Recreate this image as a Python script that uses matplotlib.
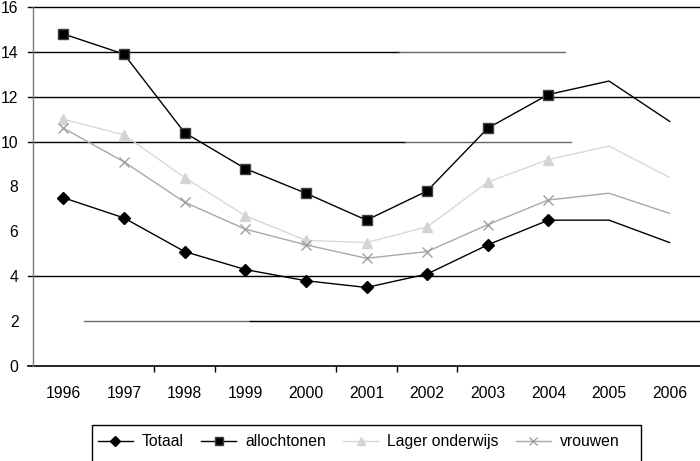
import matplotlib
matplotlib.use("Agg")
import matplotlib.pyplot as plt
from matplotlib.patches import Rectangle

plt.rcParams['font.family'] = ['Liberation Sans', 'DejaVu Sans']

years = ['1996', '1997', '1998', '1999', '2000', '2001', '2002', '2003', '2004', '2005', '2006']
totaal = [7.5, 6.6, 5.1, 4.3, 3.8, 3.5, 4.1, 5.4, 6.5, 6.5, 5.5]
allochtonen = [14.8, 13.9, 10.4, 8.8, 7.7, 6.5, 7.8, 10.6, 12.1, 12.7, 10.9]
lager_onderwijs = [11.0, 10.3, 8.4, 6.7, 5.6, 5.5, 6.2, 8.2, 9.2, 9.8, 8.4]
vrouwen = [10.6, 9.1, 7.3, 6.1, 5.4, 4.8, 5.1, 6.3, 7.4, 7.7, 6.8]
yticks = [0, 2, 4, 6, 8, 10, 12, 14, 16]

W, H = 700, 461
fig = plt.figure(figsize=(7, 4.61), dpi=100)
x0, x1, y0, y1 = 33, 700, 366, 7
ax = fig.add_axes([x0 / W, 1 - y0 / H, (x1 - x0) / W, (y0 - y1) / H])

xs = list(range(len(years)))
mk = range(9)
ax.plot(xs, totaal, color='black', lw=1.0, marker='D', ms=6.5, mfc='black', mec='black',
        markevery=mk, label='Totaal', zorder=5)
ax.plot(xs, allochtonen, color='black', lw=1.0, marker='s', ms=7, mfc='black', mec='#404040',
        markevery=mk, label='allochtonen', zorder=5)
ax.plot(xs, lager_onderwijs, color='#d8d8d8', lw=1.0, marker='^', ms=7.5, mfc='#d4d4d4', mec='#d4d4d4',
        markevery=mk, label='Lager onderwijs', zorder=4)
ax.plot(xs, vrouwen, color='#a8a8a8', lw=1.0, marker='x', ms=7, mew=1.0, mec='#a0a0a0',
        markevery=mk, label='vrouwen', zorder=4)

ax.set_xlim(-0.5, len(years) - 0.5)
ax.set_ylim(0, 16)

def fx(px):
    return (px - x0) / (x1 - x0)

# partial gridlines (as in the scanned reference)
gl = dict(lw=1.0, clip_on=False, zorder=1)
ax.axhline(16, fx(28), 1.0, color='black', **gl)
ax.axhline(14, fx(28), fx(399), color='black', **gl)
ax.axhline(14, fx(399), fx(565), color='#6a6a6a', **gl)
ax.axhline(12, fx(28), 1.0, color='black', **gl)
ax.axhline(10, fx(28), fx(405), color='black', **gl)
ax.axhline(10, fx(405), fx(571), color='#6a6a6a', **gl)
ax.axhline(4, fx(28), 1.0, color='black', **gl)
ax.axhline(2, fx(84), fx(250), color='#6a6a6a', **gl)
ax.axhline(2, fx(250), 1.0, color='black', **gl)
ax.axhline(0, fx(28), 1.0, color='black', lw=1.2, clip_on=False, zorder=2)

for s in ['top', 'right', 'bottom']:
    ax.spines[s].set_visible(False)
ax.spines['left'].set_color('#7a7a7a')
ax.spines['left'].set_linewidth(1.0)

fs = 11.3
ax.set_yticks(yticks)
ax.set_yticklabels([str(v) for v in yticks])
ax.tick_params(axis='y', length=0, pad=10.5, labelsize=fs)
ax.set_xticks(xs)
ax.set_xticklabels(years)
ax.tick_params(axis='x', which='major', length=0, pad=14.5, labelsize=fs)
ax.set_xticks([1.5, 2.5, 4.5, 5.5, 6.5], minor=True)
ax.tick_params(axis='x', which='minor', length=4.5, width=1.0, color='black', direction='out')

# legend
rect = Rectangle((92 / W, 1 - 475 / H), (641 - 92) / W, (475 - 425) / H, transform=fig.transFigure,
                 fill=False, edgecolor='black', lw=1.0, clip_on=False)
fig.add_artist(rect)
handles, labels = ax.get_legend_handles_labels()
leg = fig.legend(handles, labels, loc='center left', bbox_to_anchor=(98 / W, 1 - 441.5 / H),
                 ncol=4, frameon=False, fontsize=fs, handlelength=2.23, handletextpad=0.57,
                 columnspacing=1.1, borderpad=0, borderaxespad=0, markerscale=0.8)

fig.savefig('out.png', dpi=100)
